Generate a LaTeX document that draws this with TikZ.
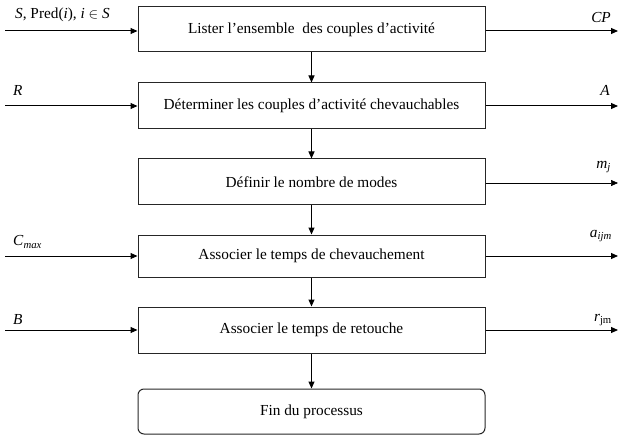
\documentclass[tikz,border=0pt]{standalone}
\usepackage{fontspec}
\setmainfont{Liberation Serif}
\usetikzlibrary{arrows.meta}
\begin{document}
\begin{tikzpicture}[x=1pt,y=-1pt,
  stepbox/.style={draw=black!85,line width=1pt,minimum width=347pt,inner sep=0pt,font=\fontsize{15.3}{17}\selectfont},
  endbox/.style={stepbox,rounded corners=6pt},
  flow/.style={draw=black,line width=1pt,-{Triangle[length=7pt,width=6pt]}},
  thinflow/.style={flow,line width=0.6pt},
  lab/.style={font=\fontsize{15.3}{17}\selectfont,inner sep=0pt}]
\useasboundingbox (0,0) rectangle (628,438);
\node[stepbox,minimum height=45pt] (b1) at (311.5,29.5) {Lister l’ensemble\ \ des couples d’activité};
\node[stepbox,minimum height=46pt] (b2) at (311.5,106) {Déterminer les couples d’activité chevauchables};
\node[stepbox,minimum height=46pt] (b3) at (311.5,182) {Définir le nombre de modes};
\node[stepbox,minimum height=42pt] (b4) at (311.5,256) {Associer le temps de chevauchement};
\node[stepbox,minimum height=46pt] (b5) at (311.5,330) {Associer le temps de retouche};
\node[endbox,minimum height=45pt] (b6) at (311.5,411.5) {Fin du processus};
\draw[flow] (b1) -- (b2);
\draw[flow] (b2) -- (b3);
\draw[flow] (b3) -- (b4);
\draw[flow] (b4) -- (b5);
\draw[flow] (b5) -- (b6);
% inputs
\coordinate (i1) at (5,31);
\coordinate (i2) at (5,106);
\coordinate (i4) at (5,256);
\coordinate (i5) at (5,330);
\draw[flow] (i1) -- (b1.west |- i1);
\draw[flow] (i2) -- (b2.west |- i2);
\draw[flow] (i4) -- (b4.west |- i4);
\draw[flow] (i5) -- (b5.west |- i5);
\node[lab,anchor=west] (l1) at (15,15) {\textit{S}, Pred(\textit{i}), \textit{i} $\in$ \textit{S}};
\node[lab,anchor=west] (l2) at (13,90) {\textit{R}};
\node[lab,anchor=west] (l4) at (13,242) {\textit{C}\textsubscript{\textit{max}}};
\node[lab,anchor=west] (l5) at (13,320) {\textit{B}};
% outputs
\coordinate (o1) at (618,31);
\coordinate (o2) at (618,106);
\coordinate (o3) at (618,183);
\coordinate (o4) at (618,256);
\coordinate (o5) at (618,330);
\draw[flow] (b1.east |- o1) -- (o1);
\draw[flow] (b2.east |- o2) -- (o2);
\draw[thinflow] (b3.east |- o3) -- (o3);
\draw[flow] (b4.east |- o4) -- (o4);
\draw[flow] (b5.east |- o5) -- (o5);
\node[lab,anchor=east] (r1) at (611,18) {\textit{CP}};
\node[lab,anchor=east] (r2) at (610,90) {\textit{A}};
\node[lab,anchor=east] (r3) at (611,167) {\textit{m}\textsubscript{\textit{j}}};
\node[lab,anchor=east] (r4) at (612,236) {\textit{a}\textsubscript{\textit{ijm}}};
\node[lab,anchor=east] (r5) at (612,320) {\textit{r}\textsubscript{jm}};
\end{tikzpicture}
\end{document}
